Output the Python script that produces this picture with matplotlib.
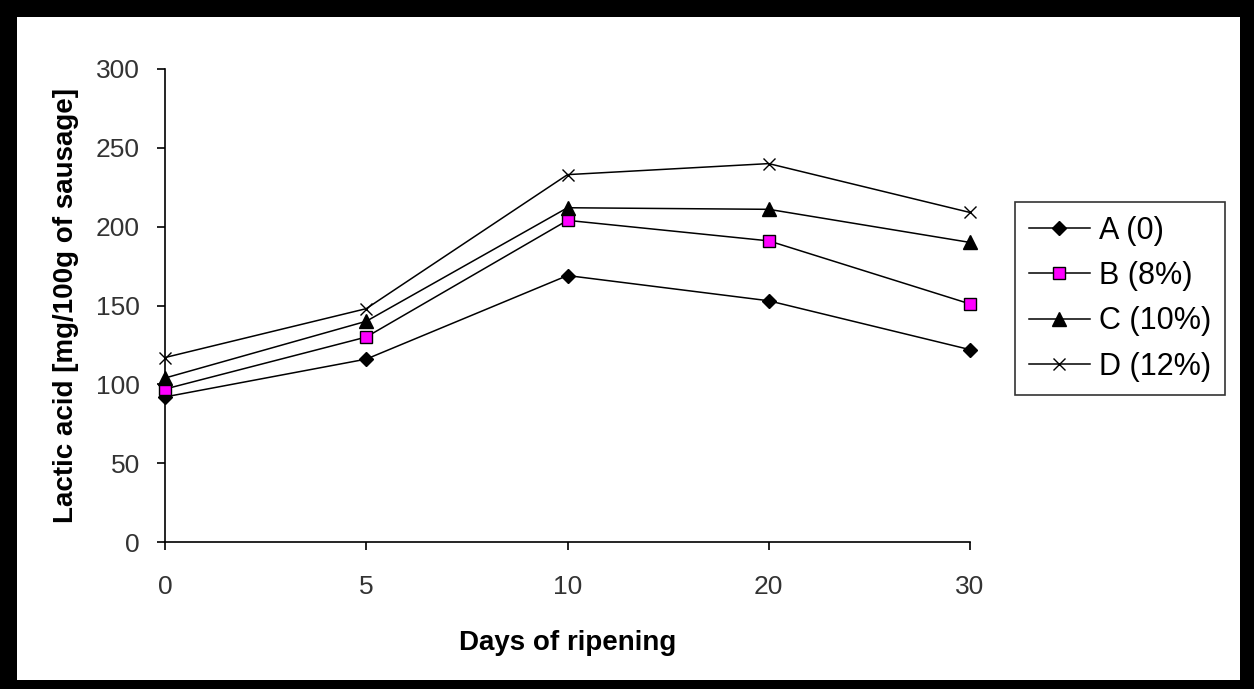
import matplotlib.pyplot as plt
import matplotlib.patches as mpatches
import numpy as np

# Data
days = ['0', '5', '10', '20', '30']
series_labels = ['A (0)', 'B (8%)', 'C (10%)', 'D (12%)']
a_vals = [92, 116, 169, 153, 122]
b_vals = [97, 130, 204, 191, 151]
c_vals = [104, 140, 212, 211, 190]
d_vals = [117, 148, 233, 240, 209]

plt.rcParams['font.family'] = ['Liberation Sans', 'DejaVu Sans']

fig = plt.figure(figsize=(12.54, 6.89), dpi=100)
ax = fig.add_axes([165 / 1254, 1 - 542 / 689, (970 - 165) / 1254, (542 - 69) / 689])

x = np.arange(len(days))
common = dict(color='black', lw=1.1, clip_on=False, zorder=3)
ax.plot(x, a_vals, marker='D', ms=7.5, mfc='black', mec='black', label=series_labels[0], **common)
ax.plot(x, b_vals, marker='s', ms=8.5, mfc='#ff00ff', mec='black', mew=1, label=series_labels[1], **common)
ax.plot(x, c_vals, marker='^', ms=10, mfc='black', mec='black', label=series_labels[2], **common)
ax.plot(x, d_vals, marker='x', ms=9, mew=1, label=series_labels[3], **common)

ax.set_xlim(0, 4)
ax.set_ylim(0, 300)
ax.set_yticks(range(0, 301, 50))
ax.set_xticks(x)
ax.set_xticklabels(days)
ax.tick_params(axis='both', labelsize=19, direction='out', length=6, width=1.2,
               colors='black', labelcolor='#333333')
ax.tick_params(axis='x', pad=18)
ax.tick_params(axis='y', pad=12)

ax.spines['top'].set_visible(False)
ax.spines['right'].set_visible(False)
ax.spines['left'].set_linewidth(1.2)
ax.spines['bottom'].set_linewidth(1.2)

ax.set_xlabel('Days of ripening', fontsize=20, fontweight='bold', labelpad=22)
ax.set_ylabel('Lactic acid [mg/100g of sausage]', fontsize=20, fontweight='bold', labelpad=12)

leg = fig.legend(loc='upper left', bbox_to_anchor=(1015 / 1254, 1 - 202 / 689),
                 fontsize=22, frameon=True, fancybox=False, edgecolor='black',
                 borderaxespad=0, handlelength=2.0, handletextpad=0.3,
                 labelspacing=0.5, borderpad=0.45)
leg.get_frame().set_linewidth(1.2)

# thick black border around the whole picture (uneven, like the source image)
W, H = 1254, 689
for (x0, y0, w, h) in [(0, 0, 17, H), (0, H - 17, W, 17), (W - 14, 0, 14, H), (0, 0, W, 9)]:
    fig.patches.append(mpatches.Rectangle((x0 / W, y0 / H), w / W, h / H,
                                          transform=fig.transFigure,
                                          facecolor='black', edgecolor='none'))

fig.savefig('out.png', dpi=100, facecolor='white')
